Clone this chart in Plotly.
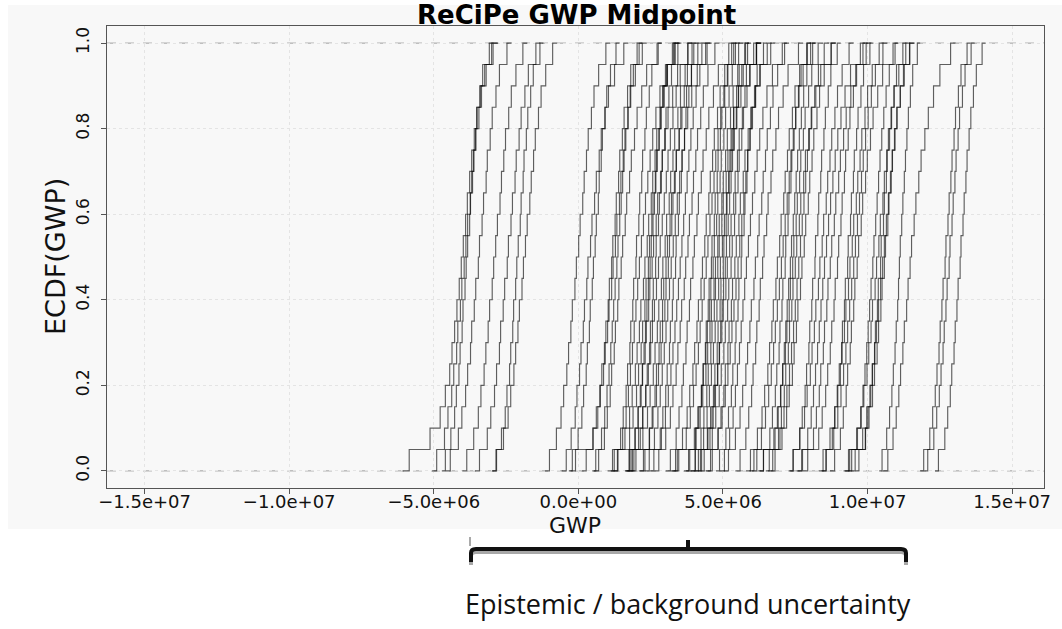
import plotly.graph_objects as go

# ---------------- text ----------------
TITLE = "ReCiPe GWP Midpoint"
X_LABEL = "GWP"
Y_LABEL = "ECDF(GWP)"
NOTE = "Epistemic / background uncertainty"

# ---------------- axes ----------------
x_tick_vals = [-1.5e7, -1.0e7, -5.0e6, 0.0, 5.0e6, 1.0e7, 1.5e7]
x_tick_text = ["−1.5e+07", "−1.0e+07", "−5.0e+06", "0.0e+00", "5.0e+06", "1.0e+07", "1.5e+07"]
y_tick_vals = [0.0, 0.2, 0.4, 0.6, 0.8, 1.0]
y_tick_text = ["0.0", "0.2", "0.4", "0.6", "0.8", "1.0"]

UNIT = 1e6  # all sample values below are in millions of GWP units

# ---------------- samples (one list per ECDF curve) ----------------
left_cluster = [
    [-5.85, -5.13, -4.78, -4.60, -4.45, -4.37, -4.28, -4.20, -4.12, -4.05, -3.98, -3.90, -3.84, -3.76, -3.69, -3.60, -3.52, -3.40, -3.24, -3.00],
    [-4.90, -4.63, -4.51, -4.38, -4.31, -4.21, -4.17, -4.08, -4.03, -3.95, -3.89, -3.83, -3.74, -3.69, -3.61, -3.55, -3.44, -3.35, -3.19, -2.95],
    [-4.60, -4.41, -4.28, -4.22, -4.13, -4.09, -4.02, -3.99, -3.92, -3.88, -3.83, -3.76, -3.73, -3.66, -3.63, -3.55, -3.50, -3.40, -3.31, -3.08],
    [-4.43, -4.15, -4.03, -3.90, -3.83, -3.73, -3.69, -3.60, -3.55, -3.46, -3.42, -3.33, -3.28, -3.19, -3.15, -3.05, -2.98, -2.85, -2.73, -2.47],
    [-3.86, -3.62, -3.46, -3.37, -3.26, -3.20, -3.12, -3.07, -2.98, -2.93, -2.86, -2.80, -2.71, -2.66, -2.58, -2.52, -2.41, -2.32, -2.16, -1.92],
    [-3.42, -3.15, -3.03, -2.90, -2.83, -2.73, -2.69, -2.60, -2.55, -2.46, -2.42, -2.33, -2.28, -2.19, -2.15, -2.05, -1.98, -1.85, -1.73, -1.47],
    [-2.85, -2.66, -2.53, -2.47, -2.38, -2.34, -2.27, -2.24, -2.17, -2.13, -2.08, -2.01, -1.98, -1.91, -1.88, -1.80, -1.75, -1.65, -1.56, -1.33],
    [-2.83, -2.59, -2.43, -2.34, -2.23, -2.17, -2.09, -2.04, -1.95, -1.90, -1.83, -1.77, -1.68, -1.63, -1.55, -1.49, -1.38, -1.29, -1.13, -0.89],
]

main_cluster_low = [
    [-1.00, -0.76, -0.60, -0.51, -0.40, -0.34, -0.26, -0.21, -0.12, -0.07, 0.01, 0.06, 0.15, 0.20, 0.28, 0.34, 0.45, 0.54, 0.70, 0.95],
    [-0.42, -0.25, -0.11, -0.05, 0.04, 0.09, 0.17, 0.21, 0.29, 0.33, 0.42, 0.47, 0.56, 0.62, 0.72, 0.79, 0.92, 1.04, 1.25, 1.57],
    [-0.21, -0.01, 0.12, 0.18, 0.27, 0.31, 0.38, 0.41, 0.48, 0.52, 0.58, 0.62, 0.69, 0.72, 0.79, 0.83, 0.92, 0.98, 1.11, 1.30],
    [-0.10, 0.50, 0.62, 0.74, 0.81, 0.90, 0.95, 1.03, 1.07, 1.15, 1.19, 1.27, 1.31, 1.39, 1.43, 1.52, 1.58, 1.70, 1.81, 2.03],
    [0.27, 0.51, 0.67, 0.76, 0.87, 0.93, 1.01, 1.06, 1.15, 1.20, 1.28, 1.33, 1.42, 1.47, 1.55, 1.61, 1.72, 1.81, 1.97, 2.21],
    [0.70, 0.90, 1.00, 1.10, 1.15, 1.24, 1.28, 1.36, 1.40, 1.48, 1.53, 1.62, 1.67, 1.77, 1.83, 1.94, 2.03, 2.19, 2.36, 2.72],
    [1.24, 1.46, 1.55, 1.65, 1.70, 1.78, 1.81, 1.88, 1.91, 1.99, 2.01, 2.09, 2.12, 2.19, 2.22, 2.30, 2.35, 2.45, 2.54, 2.76],
    [1.37, 1.61, 1.77, 1.86, 1.97, 2.03, 2.11, 2.16, 2.25, 2.30, 2.38, 2.43, 2.52, 2.57, 2.65, 2.71, 2.82, 2.91, 3.07, 3.31],
    [1.18, 1.77, 1.89, 2.01, 2.08, 2.17, 2.22, 2.30, 2.34, 2.42, 2.46, 2.54, 2.58, 2.66, 2.70, 2.79, 2.85, 2.97, 3.08, 3.30],
    [1.77, 1.97, 2.07, 2.17, 2.22, 2.31, 2.35, 2.43, 2.47, 2.55, 2.60, 2.69, 2.74, 2.84, 2.90, 3.01, 3.10, 3.26, 3.43, 3.79],
    [1.92, 2.14, 2.23, 2.33, 2.38, 2.46, 2.49, 2.56, 2.59, 2.67, 2.69, 2.77, 2.80, 2.87, 2.90, 2.98, 3.03, 3.13, 3.22, 3.44],
    [1.99, 2.23, 2.39, 2.48, 2.59, 2.65, 2.73, 2.78, 2.87, 2.92, 3.00, 3.05, 3.14, 3.19, 3.27, 3.33, 3.44, 3.53, 3.69, 3.93],
    [2.25, 2.45, 2.55, 2.65, 2.70, 2.79, 2.83, 2.91, 2.95, 3.03, 3.08, 3.17, 3.22, 3.32, 3.38, 3.49, 3.58, 3.74, 3.91, 4.27],
    [1.87, 2.46, 2.58, 2.70, 2.77, 2.86, 2.91, 2.99, 3.03, 3.11, 3.15, 3.23, 3.27, 3.35, 3.39, 3.48, 3.54, 3.66, 3.77, 3.99],
    [2.61, 2.83, 2.92, 3.02, 3.07, 3.15, 3.18, 3.25, 3.28, 3.36, 3.38, 3.46, 3.49, 3.56, 3.59, 3.67, 3.72, 3.82, 3.91, 4.13],
]

main_cluster_mid = [
    [2.78, 3.02, 3.18, 3.27, 3.38, 3.44, 3.52, 3.57, 3.66, 3.71, 3.79, 3.84, 3.93, 3.98, 4.06, 4.12, 4.23, 4.32, 4.48, 4.72],
    [3.18, 3.38, 3.48, 3.58, 3.63, 3.72, 3.76, 3.84, 3.88, 3.96, 4.01, 4.10, 4.15, 4.25, 4.31, 4.42, 4.51, 4.67, 4.84, 5.20],
    [3.36, 3.60, 3.76, 3.85, 3.96, 4.02, 4.10, 4.15, 4.24, 4.29, 4.37, 4.42, 4.51, 4.56, 4.64, 4.70, 4.81, 4.90, 5.06, 5.30],
    [3.85, 4.07, 4.16, 4.26, 4.31, 4.39, 4.42, 4.49, 4.52, 4.60, 4.62, 4.70, 4.73, 4.80, 4.83, 4.91, 4.96, 5.06, 5.15, 5.37],
    [3.42, 4.01, 4.13, 4.25, 4.32, 4.41, 4.46, 4.54, 4.58, 4.66, 4.70, 4.78, 4.82, 4.90, 4.94, 5.03, 5.09, 5.21, 5.32, 5.54],
    [3.81, 4.05, 4.21, 4.30, 4.41, 4.47, 4.55, 4.60, 4.69, 4.74, 4.82, 4.87, 4.96, 5.01, 5.09, 5.15, 5.26, 5.35, 5.51, 5.75],
    [4.04, 4.24, 4.34, 4.44, 4.49, 4.58, 4.62, 4.70, 4.74, 4.82, 4.87, 4.96, 5.01, 5.11, 5.17, 5.28, 5.37, 5.53, 5.70, 6.06],
    [4.26, 4.48, 4.57, 4.67, 4.72, 4.80, 4.83, 4.90, 4.93, 5.01, 5.03, 5.11, 5.14, 5.21, 5.24, 5.32, 5.37, 5.47, 5.56, 5.78],
    [4.22, 4.46, 4.62, 4.71, 4.82, 4.88, 4.96, 5.01, 5.10, 5.15, 5.23, 5.28, 5.37, 5.42, 5.50, 5.56, 5.67, 5.76, 5.92, 6.16],
    [4.04, 4.63, 4.75, 4.87, 4.94, 5.03, 5.08, 5.16, 5.20, 5.28, 5.32, 5.40, 5.44, 5.52, 5.56, 5.65, 5.71, 5.83, 5.94, 6.16],
    [4.63, 4.83, 4.93, 5.03, 5.08, 5.17, 5.21, 5.29, 5.33, 5.41, 5.46, 5.55, 5.60, 5.70, 5.76, 5.87, 5.96, 6.12, 6.29, 6.65],
    [4.88, 5.10, 5.19, 5.29, 5.34, 5.42, 5.45, 5.52, 5.55, 5.63, 5.65, 5.73, 5.76, 5.83, 5.86, 5.94, 5.99, 6.09, 6.18, 6.40],
    [5.19, 5.43, 5.59, 5.68, 5.79, 5.85, 5.93, 5.98, 6.07, 6.12, 6.20, 6.25, 6.34, 6.39, 6.47, 6.53, 6.64, 6.73, 6.89, 7.13],
    [5.59, 5.79, 5.89, 5.99, 6.04, 6.13, 6.17, 6.25, 6.29, 6.37, 6.42, 6.51, 6.56, 6.66, 6.72, 6.83, 6.92, 7.08, 7.25, 7.61],
    [5.95, 6.19, 6.35, 6.44, 6.55, 6.61, 6.69, 6.74, 6.83, 6.88, 6.96, 7.01, 7.10, 7.15, 7.23, 7.29, 7.40, 7.49, 7.65, 7.89],
]

main_cluster_high = [
    [6.40, 6.62, 6.71, 6.81, 6.86, 6.94, 6.97, 7.04, 7.07, 7.15, 7.17, 7.25, 7.28, 7.35, 7.38, 7.46, 7.51, 7.61, 7.70, 7.92],
    [6.17, 6.76, 6.88, 7.00, 7.07, 7.16, 7.21, 7.29, 7.33, 7.41, 7.45, 7.53, 7.57, 7.65, 7.69, 7.78, 7.84, 7.96, 8.07, 8.29],
    [6.72, 6.92, 7.02, 7.12, 7.17, 7.26, 7.30, 7.38, 7.42, 7.50, 7.55, 7.64, 7.69, 7.79, 7.85, 7.96, 8.05, 8.21, 8.38, 8.74],
    [6.80, 7.04, 7.20, 7.29, 7.40, 7.46, 7.54, 7.59, 7.68, 7.73, 7.81, 7.86, 7.95, 8.00, 8.08, 8.14, 8.25, 8.34, 8.50, 8.74],
    [7.43, 7.65, 7.74, 7.84, 7.89, 7.97, 8.00, 8.07, 8.10, 8.18, 8.20, 8.28, 8.31, 8.38, 8.41, 8.49, 8.54, 8.64, 8.73, 8.95],
    [7.42, 7.66, 7.82, 7.91, 8.02, 8.08, 8.16, 8.21, 8.30, 8.35, 8.43, 8.48, 8.57, 8.62, 8.70, 8.76, 8.87, 8.96, 9.12, 9.36],
    [7.93, 8.13, 8.23, 8.33, 8.38, 8.47, 8.51, 8.59, 8.63, 8.71, 8.76, 8.85, 8.90, 9.00, 9.06, 9.17, 9.26, 9.42, 9.59, 9.95],
    [7.72, 8.31, 8.43, 8.55, 8.62, 8.71, 8.76, 8.84, 8.88, 8.96, 9.00, 9.08, 9.12, 9.20, 9.24, 9.33, 9.39, 9.51, 9.62, 9.84],
    [8.56, 8.78, 8.87, 8.97, 9.02, 9.10, 9.13, 9.20, 9.23, 9.31, 9.33, 9.41, 9.44, 9.51, 9.54, 9.62, 9.67, 9.77, 9.86, 10.08],
    [8.46, 8.70, 8.86, 8.95, 9.06, 9.12, 9.20, 9.25, 9.34, 9.39, 9.47, 9.52, 9.61, 9.66, 9.74, 9.80, 9.91, 10.00, 10.16, 10.40],
    [8.86, 9.06, 9.16, 9.26, 9.31, 9.40, 9.44, 9.52, 9.56, 9.64, 9.69, 9.78, 9.83, 9.93, 9.99, 10.10, 10.19, 10.35, 10.52, 10.88],
    [9.38, 9.62, 9.78, 9.87, 9.98, 10.04, 10.12, 10.17, 10.26, 10.31, 10.39, 10.44, 10.53, 10.58, 10.66, 10.72, 10.83, 10.92, 11.08, 11.32],
    [9.70, 9.92, 10.01, 10.11, 10.16, 10.24, 10.27, 10.34, 10.37, 10.45, 10.47, 10.55, 10.58, 10.65, 10.68, 10.76, 10.81, 10.91, 11.00, 11.22],
    [9.34, 9.93, 10.05, 10.17, 10.24, 10.33, 10.38, 10.46, 10.50, 10.58, 10.62, 10.70, 10.74, 10.82, 10.86, 10.95, 11.01, 11.13, 11.24, 11.46],
    [10.50, 10.66, 10.76, 10.84, 10.89, 10.95, 10.99, 11.04, 11.07, 11.10, 11.13, 11.18, 11.22, 11.27, 11.31, 11.36, 11.41, 11.48, 11.56, 11.72],
    [10.70, 10.88, 10.99, 11.08, 11.14, 11.22, 11.27, 11.35, 11.40, 11.47, 11.52, 11.61, 11.67, 11.77, 11.85, 11.98, 12.10, 12.28, 12.50, 12.87],
]

main_cluster_extra = [
    [1.35, 1.53, 1.65, 1.73, 1.80, 1.87, 1.93, 1.99, 2.05, 2.11, 2.18, 2.25, 2.32, 2.40, 2.48, 2.57, 2.68, 2.82, 3.01, 3.35],
    [1.75, 1.95, 2.06, 2.14, 2.21, 2.27, 2.32, 2.37, 2.42, 2.48, 2.52, 2.58, 2.63, 2.68, 2.73, 2.79, 2.86, 2.94, 3.05, 3.25],
    [1.82, 2.08, 2.22, 2.33, 2.42, 2.50, 2.56, 2.63, 2.70, 2.77, 2.83, 2.90, 2.97, 3.04, 3.10, 3.18, 3.27, 3.38, 3.52, 3.78],
    [2.45, 2.63, 2.75, 2.83, 2.90, 2.97, 3.03, 3.09, 3.15, 3.21, 3.28, 3.35, 3.42, 3.50, 3.58, 3.67, 3.78, 3.92, 4.11, 4.45],
    [2.30, 2.87, 3.01, 3.11, 3.20, 3.27, 3.34, 3.40, 3.46, 3.52, 3.58, 3.64, 3.70, 3.76, 3.82, 3.89, 3.97, 4.07, 4.20, 4.40],
    [3.47, 3.73, 3.87, 3.98, 4.07, 4.15, 4.21, 4.28, 4.35, 4.42, 4.48, 4.55, 4.62, 4.69, 4.75, 4.83, 4.92, 5.03, 5.17, 5.43],
    [4.15, 4.33, 4.45, 4.53, 4.60, 4.67, 4.73, 4.79, 4.85, 4.91, 4.98, 5.05, 5.12, 5.20, 5.28, 5.37, 5.48, 5.62, 5.81, 6.15],
    [4.35, 4.55, 4.66, 4.74, 4.81, 4.87, 4.92, 4.97, 5.02, 5.08, 5.12, 5.18, 5.23, 5.28, 5.33, 5.39, 5.46, 5.54, 5.65, 5.85],
    [4.57, 4.83, 4.97, 5.08, 5.17, 5.25, 5.31, 5.38, 5.45, 5.52, 5.58, 5.65, 5.72, 5.79, 5.85, 5.93, 6.02, 6.13, 6.27, 6.53],
    [5.05, 5.23, 5.35, 5.43, 5.50, 5.57, 5.63, 5.69, 5.75, 5.81, 5.88, 5.95, 6.02, 6.10, 6.18, 6.27, 6.38, 6.52, 6.71, 7.05],
    [6.07, 6.33, 6.47, 6.58, 6.67, 6.75, 6.81, 6.88, 6.95, 7.02, 7.08, 7.15, 7.22, 7.29, 7.35, 7.43, 7.52, 7.63, 7.77, 8.03],
    [6.60, 6.80, 6.91, 6.99, 7.06, 7.12, 7.17, 7.22, 7.27, 7.33, 7.37, 7.43, 7.48, 7.53, 7.58, 7.64, 7.71, 7.79, 7.90, 8.10],
    [6.40, 6.97, 7.11, 7.21, 7.30, 7.37, 7.44, 7.50, 7.56, 7.62, 7.68, 7.74, 7.80, 7.86, 7.92, 7.99, 8.07, 8.17, 8.30, 8.50],
    [7.75, 7.93, 8.05, 8.13, 8.20, 8.27, 8.33, 8.39, 8.45, 8.51, 8.58, 8.65, 8.72, 8.80, 8.88, 8.97, 9.08, 9.22, 9.41, 9.75],
    [8.57, 8.83, 8.97, 9.08, 9.17, 9.25, 9.31, 9.38, 9.45, 9.52, 9.58, 9.65, 9.72, 9.79, 9.85, 9.93, 10.02, 10.13, 10.27, 10.53],
    [9.45, 9.65, 9.76, 9.84, 9.91, 9.97, 10.02, 10.07, 10.12, 10.18, 10.22, 10.28, 10.33, 10.38, 10.43, 10.49, 10.56, 10.64, 10.75, 10.95],
    [9.57, 9.83, 9.97, 10.08, 10.17, 10.25, 10.31, 10.38, 10.45, 10.52, 10.58, 10.65, 10.72, 10.79, 10.85, 10.93, 11.02, 11.13, 11.27, 11.45],
    [0.60, 0.80, 0.91, 0.99, 1.06, 1.12, 1.17, 1.22, 1.27, 1.33, 1.37, 1.43, 1.48, 1.53, 1.58, 1.64, 1.71, 1.79, 1.90, 2.10],
]

right_cluster = [
    [11.94, 12.15, 12.25, 12.34, 12.40, 12.47, 12.51, 12.57, 12.61, 12.68, 12.71, 12.78, 12.82, 12.88, 12.92, 12.99, 13.04, 13.14, 13.23, 13.44],
    [12.08, 12.29, 12.39, 12.48, 12.54, 12.61, 12.65, 12.71, 12.75, 12.82, 12.85, 12.92, 12.96, 13.02, 13.06, 13.13, 13.18, 13.28, 13.37, 13.58],
    [12.45, 12.67, 12.77, 12.86, 12.91, 12.99, 13.03, 13.09, 13.13, 13.20, 13.23, 13.30, 13.34, 13.40, 13.44, 13.51, 13.57, 13.66, 13.76, 13.96],
]

# ---------------- layout geometry (pixels) ----------------
W, H = 1062, 629
ML, MR, MT, MB = 107, 18, 26, 141
PW = W - ML - MR
PH = H - MT - MB


def fx(px):
    return (px - ML) / PW


def fy(py):
    return (H - MB - py) / PH


fig = go.Figure()

all_curves = (left_cluster + main_cluster_low + main_cluster_mid + main_cluster_extra
              + main_cluster_high + right_cluster)
for samples in all_curves:
    s = sorted(v * UNIT for v in samples)
    n = len(s)
    pad = 0.08 * (s[-1] - s[0])
    xs = [s[0] - pad] + s + [s[-1] + pad]
    ys = [0.0] + [(i + 1) / n for i in range(n)] + [1.0]
    fig.add_trace(go.Scatter(
        x=xs, y=ys, mode="lines",
        line=dict(color="rgba(0,0,0,0.62)", width=1.15, shape="hv"),
        hoverinfo="skip", showlegend=False,
    ))

shapes = [
    # light grey device background of the original R plot
    dict(type="rect", xref="paper", yref="paper", x0=fx(8), x1=fx(1062), y0=fy(529), y1=fy(5),
         fillcolor="#f8f8f8", line=dict(width=0), layer="below"),
    # ECDF reference lines at 0 and 1
    dict(type="line", xref="paper", yref="y", x0=0, x1=1, y0=0, y1=0,
         line=dict(color="#9c9c9c", width=1, dash="dash"), layer="below"),
    dict(type="line", xref="paper", yref="y", x0=0, x1=1, y0=1, y1=1,
         line=dict(color="#9c9c9c", width=1, dash="dash"), layer="below"),
]


def bracket_path(dy):
    p = "M {:.5f},{:.5f} L {:.5f},{:.5f} ".format(fx(471), fy(562 + dy), fx(471), fy(553 + dy))
    p += "Q {:.5f},{:.5f} {:.5f},{:.5f} ".format(fx(471), fy(549 + dy), fx(476), fy(549 + dy))
    p += "L {:.5f},{:.5f} ".format(fx(901), fy(549 + dy))
    p += "Q {:.5f},{:.5f} {:.5f},{:.5f} ".format(fx(906), fy(549 + dy), fx(906), fy(553 + dy))
    p += "L {:.5f},{:.5f}".format(fx(906), fy(562 + dy))
    return p


shapes += [
    dict(type="path", xref="paper", yref="paper", path=bracket_path(3),
         line=dict(color="#a8a8a8", width=4)),
    dict(type="path", xref="paper", yref="paper", path=bracket_path(0),
         line=dict(color="#111111", width=4)),
    dict(type="line", xref="paper", yref="paper", x0=fx(688), x1=fx(688), y0=fy(549), y1=fy(540),
         line=dict(color="#111111", width=4)),
    dict(type="line", xref="paper", yref="paper", x0=fx(470), x1=fx(470), y0=fy(546), y1=fy(537),
         line=dict(color="#555555", width=1)),
]

annotations = [
    dict(text="<b>" + TITLE + "</b>", xref="paper", yref="paper", x=fx(576), y=fy(15),
         xanchor="center", yanchor="middle", showarrow=False,
         font=dict(family="DejaVu Sans", size=26, color="#000000")),
    dict(text=X_LABEL, xref="paper", yref="paper", x=fx(575), y=fy(525),
         xanchor="center", yanchor="middle", showarrow=False,
         font=dict(family="DejaVu Sans", size=22, color="#111111")),
    dict(text=Y_LABEL, xref="paper", yref="paper", x=fx(55), y=fy(257),
         xanchor="center", yanchor="middle", showarrow=False, textangle=-90,
         font=dict(family="DejaVu Sans", size=27, color="#111111")),
    dict(text=NOTE, xref="paper", yref="paper", x=fx(688), y=fy(603),
         xanchor="center", yanchor="middle", showarrow=False,
         font=dict(family="Open Sans", size=27, color="#111111")),
]

fig.update_layout(
    width=W, height=H,
    margin=dict(l=ML, r=MR, t=MT, b=MB, pad=0),
    paper_bgcolor="white", plot_bgcolor="rgba(0,0,0,0)",
    showlegend=False, shapes=shapes, annotations=annotations,
)

axis_common = dict(
    ticks="outside", ticklen=5, tickcolor="#555555", tickwidth=1,
    showline=True, mirror=True, linecolor="#555555", linewidth=1,
    showgrid=True, gridcolor="#e4e4e4", griddash="dot", gridwidth=1,
    zeroline=False,
)

fig.update_xaxes(range=[-1.63e7, 1.61e7], tickvals=x_tick_vals, ticktext=x_tick_text,
                 ticklabelstandoff=-8,
                 tickfont=dict(family="DejaVu Sans", size=18, color="#111111"), **axis_common)
fig.update_yaxes(range=[-0.04, 1.04], tickvals=y_tick_vals, ticktext=y_tick_text, tickangle=-90,
                 ticklabelstandoff=5,
                 tickfont=dict(family="DejaVu Sans", size=17, color="#111111"), **axis_common)

fig.write_html("out.html", config={"displayModeBar": False},
               post_script="document.body.style.margin='0';")
